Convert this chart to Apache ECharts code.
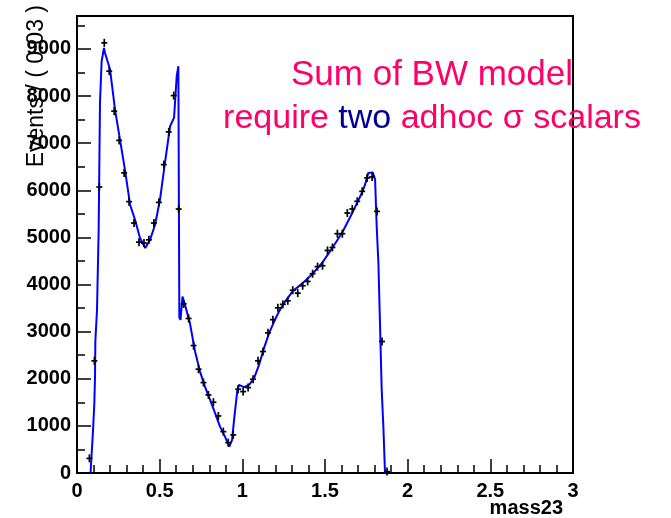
<!DOCTYPE html>
<html>
<head>
<meta charset="utf-8">
<script src="https://cdn.jsdelivr.net/npm/echarts@6/dist/echarts.min.js"></script>
<style>html,body{margin:0;padding:0;background:#fff}#c{width:671px;height:518px}</style>
</head>
<body>
<div id="c"></div>
<script>
// Data points (bin centres, events per 0.03)
const binCenters = [0.075,0.105,0.135,0.165,0.195,0.225,0.255,0.285,0.315,0.345,0.375,0.405,0.435,0.465,0.495,0.525,0.555,0.585,0.615,0.645,0.675,0.705,0.735,0.765,0.795,0.825,0.855,0.885,0.915,0.945,0.975,1.005,1.035,1.065,1.095,1.125,1.155,1.185,1.215,1.245,1.275,1.305,1.335,1.365,1.395,1.425,1.455,1.485,1.515,1.545,1.575,1.605,1.635,1.665,1.695,1.725,1.755,1.785,1.815,1.845,1.875];
const binCounts = [310,2380,6070,9130,8530,7680,7060,6370,5760,5306,4900,4880,4950,5306,5743,6545,7240,8011,5603,3590,3280,2705,2203,1919,1657,1502,1211,878,644,807,1778,1728,1813,1991,2380,2578,2975,3255,3505,3580,3655,3880,3818,3974,4066,4230,4380,4399,4724,4787,5079,5079,5518,5604,5766,5978,6263,6284,5553,2791,30];

// Fit curve (sum of BW model)
const fitX = [0.082,0.097,0.105,0.109,0.111,0.121,0.131,0.139,0.149,0.163,0.169,0.200,0.230,0.260,0.290,0.321,0.351,0.381,0.413,0.442,0.472,0.502,0.532,0.563,0.587,0.603,0.613,0.619,0.626,0.638,0.653,0.683,0.714,0.744,0.774,0.805,0.835,0.865,0.895,0.921,0.938,0.950,0.970,0.980,1.010,1.041,1.071,1.101,1.131,1.162,1.192,1.222,1.252,1.305,1.365,1.425,1.485,1.545,1.605,1.665,1.725,1.742,1.762,1.789,1.803,1.813,1.823,1.843,1.853,1.863];
const fitY = [0,914,1490,2047,2800,3460,5160,7860,8740,9020,8920,8563,7714,7076,6440,5695,5376,4987,4775,4951,5270,5801,6581,7360,7543,8420,8634,3300,3251,3746,3570,3181,2578,2153,1834,1551,1269,984,771,559,701,1126,1764,1870,1821,1870,2012,2295,2649,2969,3215,3428,3606,3860,4030,4230,4470,4780,5110,5520,5960,6120,6370,6381,6226,5206,4456,1764,984,0];

const xTickLabels = ['0','0.5','1','1.5','2','2.5','3'];
const yAxisTitle = 'Events / ( 0.03 )';
const xAxisTitle = 'mass23';
const binWidth = 0.03;

const chart = echarts.init(document.getElementById('c'), null, {renderer:'canvas'});
const labelFont = {fontFamily:'Liberation Sans, Arial, sans-serif', fontWeight:'bold', fontSize:20, color:'#000'};
const fmtX = v => { const s = String(Math.round(v*10)/10); return xTickLabels.includes(s) ? s : ''; };
const fmtY = v => String(Math.round(v));

chart.setOption({
  animation:false,
  backgroundColor:'#fff',
  grid:{left:77, top:16, right:98, bottom:45, show:true, borderColor:'#000', borderWidth:2, backgroundColor:'transparent'},
  xAxis:[
    {type:'value', min:0, max:3, interval:0.5, position:'bottom',
     axisLine:{show:true, lineStyle:{color:'#000', width:2}},
     axisTick:{show:true, inside:true, length:14, lineStyle:{color:'#000', width:1.5}},
     axisLabel:Object.assign({margin:8, formatter:fmtX}, labelFont),
     splitLine:{show:false}},
    {type:'value', min:0, max:3, interval:0.1, position:'bottom',
     axisLine:{show:false},
     axisTick:{show:true, inside:true, length:8, lineStyle:{color:'#000', width:1.5}},
     axisLabel:{show:false}, splitLine:{show:false}}
  ],
  yAxis:[
    {type:'value', min:0, max:9700, interval:1000, position:'left',
     axisLine:{show:true, lineStyle:{color:'#000', width:2}},
     axisTick:{show:true, inside:true, length:14, lineStyle:{color:'#000', width:1.5}},
     axisLabel:Object.assign({margin:6, showMaxLabel:false, formatter:fmtY}, labelFont),
     splitLine:{show:false}},
    {type:'value', min:0, max:9700, interval:500, position:'left',
     axisLine:{show:false},
     axisTick:{show:true, inside:true, length:8, lineStyle:{color:'#000', width:1.5}},
     axisLabel:{show:false}, splitLine:{show:false}}
  ],
  graphic:[
    {type:'text', x:37, y:5, rotation:Math.PI/2,
     style:{text:yAxisTitle, font:'23px "Liberation Sans", Arial, sans-serif', fill:'#000', align:'right', verticalAlign:'middle'}},
    {type:'text', x:563, y:508,
     style:{text:xAxisTitle, font:'bold 20px "Liberation Sans", Arial, sans-serif', fill:'#000', align:'right', verticalAlign:'middle'}},
    {type:'text', x:432, y:75,
     style:{text:'Sum of BW model', font:'35px "Liberation Sans", Arial, sans-serif', fill:'#FF0066', align:'center', verticalAlign:'middle'}},
    {type:'text', x:432, y:119,
     style:{text:'{p|require }{b|two}{p| adhoc σ scalars}', align:'center', verticalAlign:'middle',
       rich:{p:{font:'34px "Liberation Sans", Arial, sans-serif', fill:'#FF0066'},
             b:{font:'34px "Liberation Sans", Arial, sans-serif', fill:'#000099'}}}}
  ],
  series:[
    {type:'line', xAxisIndex:0, yAxisIndex:0, showSymbol:false, silent:true,
     data:fitX.map((x,i)=>[x, fitY[i]]),
     lineStyle:{color:'#0000FF', width:2}, z:3},
    {type:'custom', xAxisIndex:0, yAxisIndex:0, z:4,
     data:binCenters.map((x,i)=>[x, binCounts[i]]),
     renderItem:(params, api) => {
       const x = api.value(0), y = api.value(1);
       const l = api.coord([x - binWidth/2, y]);
       const r = api.coord([x + binWidth/2, y]);
       const c = api.coord([x, y]);
       const st = {stroke:'#000', lineWidth:1.7};
       return {type:'group', children:[
         {type:'line', shape:{x1:l[0]-0.5, y1:l[1], x2:r[0]+0.5, y2:r[1]}, style:st},
         {type:'line', shape:{x1:c[0], y1:c[1]-4, x2:c[0], y2:c[1]+4}, style:st}
       ]};
     }}
  ]
});
</script>
</body>
</html>
